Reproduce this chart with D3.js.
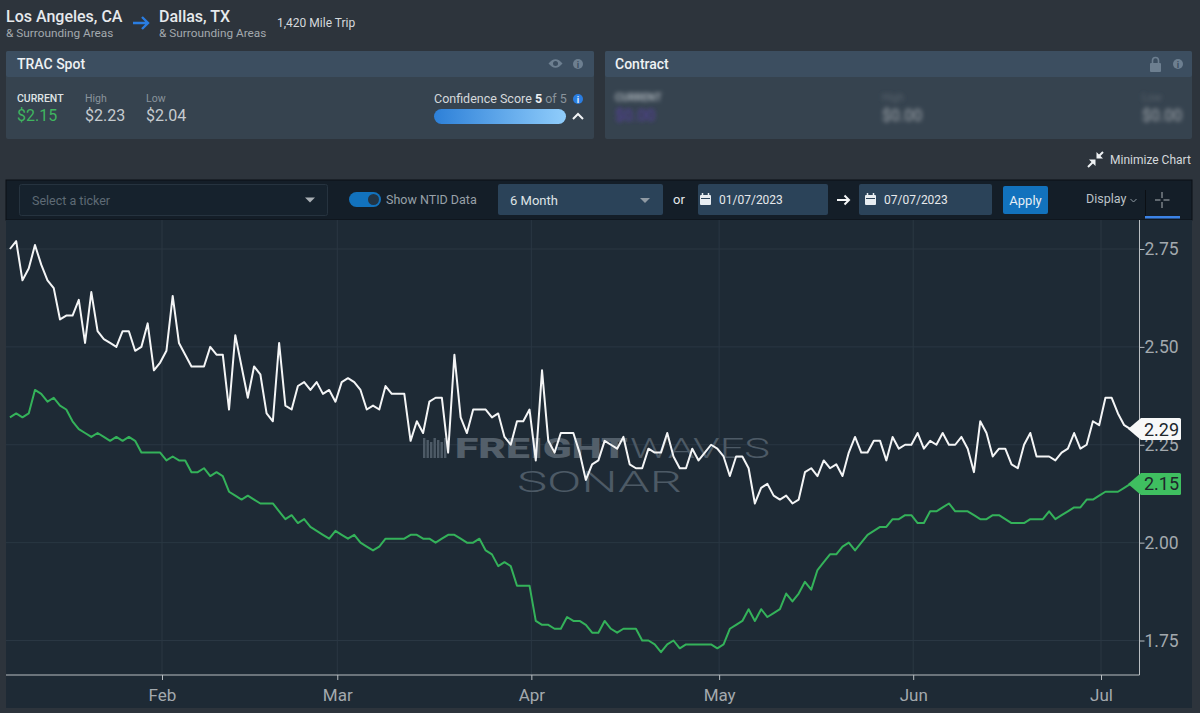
<!DOCTYPE html>
<html>
<head>
<meta charset="utf-8">
<title>TRAC Spot</title>
<script src="https://cdnjs.cloudflare.com/ajax/libs/d3/7.8.5/d3.min.js"></script>
<style>
  html, body { margin: 0; padding: 0; background: #2d343c; overflow: hidden; }
  svg { display: block; font-family: Roboto, sans-serif; }
</style>
</head>
<body>
<svg id="page" width="1200" height="713"></svg>
<script>
// TRAC spot rate, one value per day from the first point on
const firstDay = "2023-01-07T17:00:00Z";
const spotWhite = [
  2.75, 2.77, 2.67, 2.70, 2.76, 2.71, 2.67, 2.65, 2.57, 2.58, 2.58, 2.62, 2.51, 2.64, 2.54,
  2.52, 2.51, 2.50, 2.54, 2.54, 2.49, 2.50, 2.56, 2.44, 2.46, 2.49, 2.63, 2.51, 2.48, 2.45,
  2.45, 2.45, 2.50, 2.48, 2.48, 2.34, 2.53, 2.45, 2.37, 2.45, 2.43, 2.33, 2.31, 2.51, 2.35,
  2.34, 2.40, 2.41, 2.39, 2.41, 2.38, 2.39, 2.36, 2.41, 2.42, 2.41, 2.39, 2.34, 2.35, 2.34,
  2.40, 2.38, 2.38, 2.38, 2.26, 2.31, 2.28, 2.36, 2.37, 2.37, 2.23, 2.48, 2.32, 2.28, 2.34,
  2.34, 2.34, 2.32, 2.33, 2.27, 2.25, 2.31, 2.31, 2.34, 2.21, 2.44, 2.26, 2.23, 2.28, 2.28,
  2.28, 2.23, 2.16, 2.20, 2.21, 2.26, 2.25, 2.24, 2.27, 2.20, 2.19, 2.19, 2.24, 2.23, 2.23,
  2.28, 2.22, 2.19, 2.19, 2.24, 2.21, 2.23, 2.25, 2.24, 2.22, 2.17, 2.22, 2.22, 2.19, 2.10,
  2.14, 2.15, 2.12, 2.11, 2.12, 2.10, 2.11, 2.18, 2.19, 2.17, 2.21, 2.19, 2.20, 2.17, 2.23,
  2.27, 2.23, 2.23, 2.26, 2.26, 2.21, 2.27, 2.24, 2.25, 2.25, 2.28, 2.24, 2.26, 2.25, 2.28,
  2.25, 2.25, 2.27, 2.24, 2.18, 2.31, 2.28, 2.22, 2.24, 2.24, 2.20, 2.19, 2.25, 2.28, 2.22,
  2.22, 2.22, 2.21, 2.23, 2.24, 2.28, 2.24, 2.25, 2.31, 2.30, 2.37, 2.37, 2.33, 2.30, 2.29
];
const spotGreen = [
  2.32, 2.33, 2.32, 2.33, 2.39, 2.38, 2.36, 2.37, 2.35, 2.34, 2.31, 2.29, 2.28, 2.27, 2.28,
  2.27, 2.26, 2.27, 2.26, 2.27, 2.26, 2.23, 2.23, 2.23, 2.23, 2.21, 2.22, 2.21, 2.21, 2.18,
  2.18, 2.19, 2.17, 2.18, 2.17, 2.13, 2.12, 2.11, 2.12, 2.11, 2.10, 2.10, 2.10, 2.08, 2.06,
  2.07, 2.05, 2.06, 2.04, 2.03, 2.02, 2.01, 2.03, 2.02, 2.01, 2.02, 2.00, 1.99, 1.98, 1.99,
  2.01, 2.01, 2.01, 2.01, 2.02, 2.02, 2.01, 2.01, 2.00, 2.01, 2.02, 2.02, 2.01, 2.00, 2.00,
  2.01, 1.98, 1.97, 1.94, 1.95, 1.94, 1.89, 1.89, 1.89, 1.80, 1.79, 1.79, 1.78, 1.78, 1.81,
  1.80, 1.80, 1.79, 1.77, 1.77, 1.80, 1.78, 1.77, 1.78, 1.78, 1.78, 1.75, 1.75, 1.74, 1.72,
  1.74, 1.75, 1.73, 1.74, 1.74, 1.74, 1.74, 1.74, 1.73, 1.74, 1.78, 1.79, 1.80, 1.83, 1.80,
  1.83, 1.81, 1.82, 1.83, 1.87, 1.85, 1.87, 1.90, 1.88, 1.93, 1.95, 1.97, 1.97, 1.99, 2.00,
  1.98, 2.00, 2.02, 2.03, 2.04, 2.04, 2.06, 2.06, 2.07, 2.07, 2.05, 2.05, 2.08, 2.08, 2.09,
  2.10, 2.08, 2.08, 2.08, 2.07, 2.06, 2.06, 2.07, 2.07, 2.06, 2.05, 2.05, 2.05, 2.06, 2.06,
  2.06, 2.08, 2.06, 2.07, 2.08, 2.09, 2.09, 2.11, 2.11, 2.12, 2.13, 2.13, 2.13, 2.14, 2.15
];
const yTicks = [1.75, 2.00, 2.25, 2.50, 2.75];
const monthTicks = ["2023-02-01", "2023-03-01", "2023-04-01", "2023-05-01", "2023-06-01", "2023-07-01"];

const svg = d3.select("#page");

// page colours
const cardBody = "#36434f", cardHead = "#3c4e60", plotBg = "#1e2a35", barBg = "#141e28";
const blue = "#1272bd", green = "#34b25a", soft = "#a3a9ae";

function label(g, x, y, str, size, fill, weight, anchor) {
    return g.append("text").attr("x", x).attr("y", y).text(str)
        .attr("font-size", size).attr("fill", fill)
        .attr("font-weight", weight || 400).attr("text-anchor", anchor || "start");
}
function box(g, x, y, w, h, fill, r) {
    return g.append("rect").attr("x", x).attr("y", y).attr("width", w).attr("height", h)
        .attr("fill", fill).attr("rx", r || 0);
}
function infoDot(g, x, y, fill, mark) {
    g.append("circle").attr("cx", x).attr("cy", y).attr("r", 5).attr("fill", fill);
    label(g, x, y + 3.5, "i", 9, mark, 700, "middle");
}
function calendar(g, x, y) {
    box(g, x, y + 2, 11, 10, "#e8edf1", 1);
    box(g, x + 1, y + 5, 9, 1, "#2b4359");
    g.append("path").attr("d", `M${x + 2.5} ${y}v3M${x + 8.5} ${y}v3`).attr("stroke", "#e8edf1").attr("stroke-width", 1.5);
}
function arrowRight(g, x, y, len, head, stroke, width) {
    g.append("path").attr("fill", "none").attr("stroke", stroke).attr("stroke-width", width)
        .attr("d", `M${x} ${y}H${x + len}M${x + len - head} ${y - head}L${x + len} ${y}L${x + len - head} ${y + head}`);
}

const defs = svg.append("defs");
defs.append("filter").attr("id", "blur").append("feGaussianBlur").attr("stdDeviation", 2);
const grad = defs.append("linearGradient").attr("id", "score");
grad.append("stop").attr("offset", "0%").attr("stop-color", "#2d80d8");
grad.append("stop").attr("offset", "100%").attr("stop-color", "#90cdfb");

// lane heading
const head = svg.append("g");
label(head, 6, 22, "Los Angeles, CA", 16, "#e6e9ec", 500);
label(head, 6, 37, "& Surrounding Areas", 11.8, soft);
arrowRight(head, 133, 23, 15, 6, "#2a7de1", 2.4);
label(head, 159, 22, "Dallas, TX", 16, "#e6e9ec", 500);
label(head, 159, 37, "& Surrounding Areas", 11.8, soft);
label(head, 277, 27, "1,420 Mile Trip", 12, "#d5d9dc");

// TRAC Spot card
const spot = svg.append("g");
box(spot, 6, 51, 588, 88, cardBody, 2);
box(spot, 6, 51, 588, 26, cardHead, 2);
label(spot, 17, 69, "TRAC Spot", 14, "#eef1f3", 500);
spot.append("path").attr("d", "M548.5 63.5q7-8.5 14 0q-7 8.5-14 0z").attr("fill", "#6d7f90");
spot.append("circle").attr("cx", 555.5).attr("cy", 63.5).attr("r", 2.5).attr("fill", cardHead);
infoDot(spot, 578, 64, "#6d7f90", cardHead);
label(spot, 17, 102, "CURRENT", 10.5, "#dfe3e6", 500);
label(spot, 17, 121, "$2.15", 16, "#3fb55f");
label(spot, 85, 102, "High", 10.5, "#8a949c");
label(spot, 85, 121, "$2.23", 16, "#c6cbcf");
label(spot, 146, 102, "Low", 10.5, "#8a949c");
label(spot, 146, 121, "$2.04", 16, "#c6cbcf");
const conf = label(spot, 434, 103, "Confidence Score ", 12.5, "#d5d9dc");
conf.append("tspan").text("5").attr("font-weight", 700).attr("fill", "#eef1f3");
conf.append("tspan").text(" of 5").attr("fill", "#8a949c");
infoDot(spot, 578, 99, "#2a7de1", "#e6f0fa");
box(spot, 434, 109, 132, 15, "url(#score)", 7.5);
spot.append("path").attr("d", "M573 119l5-5l5 5").attr("fill", "none").attr("stroke", "#f1f3f5").attr("stroke-width", 2);

// Contract card, values are blurred out
const contract = svg.append("g");
box(contract, 605, 51, 587, 88, cardBody, 2);
box(contract, 605, 51, 587, 26, cardHead, 2);
label(contract, 615, 69, "Contract", 14, "#eef1f3", 500);
box(contract, 1150, 63, 11, 9, "#6d7f90", 1);
contract.append("path").attr("d", "M1152.5 63v-2.5a3 3 0 0 1 6 0v2.5").attr("fill", "none").attr("stroke", "#6d7f90").attr("stroke-width", 1.6);
infoDot(contract, 1178, 64, "#6d7f90", cardHead);
const hidden = contract.append("g").attr("filter", "url(#blur)");
label(hidden, 615, 101, "CURRENT", 10.5, "#b9c0c6", 500);
label(hidden, 615, 121, "$0.00", 16, "#5a3fa8");
label(hidden, 882, 101, "High", 10.5, "#59646e");
label(hidden, 882, 121, "$0.00", 16, "#a5abb0");
label(hidden, 1142, 101, "Low", 10.5, "#59646e");
label(hidden, 1142, 121, "$0.00", 16, "#a5abb0");

// minimize link
const mini = svg.append("g");
mini.append("path").attr("fill", "none").attr("stroke", "#eef1f3").attr("stroke-width", 2)
    .attr("d", "M1088 167l5-5M1103 152l-5 5");
mini.append("path").attr("fill", "#eef1f3").attr("d", "M1089 159.5h6.5v6.5zM1103 158.5h-6.5v-6.5z");
label(mini, 1110, 164, "Minimize Chart", 12, "#d5d9dc");

// toolbar
const bar = svg.append("g");
box(bar, 6, 180, 1186, 40, barBg).attr("stroke", "#0b0f14");
box(bar, 19.5, 184.5, 308, 31, "#16222d", 2).attr("stroke", "#26333f");
label(bar, 32, 205, "Select a ticker", 12.5, "#5e6a75");
bar.append("path").attr("d", "M305 197.5h10l-5 5z").attr("fill", "#aab0b5");
box(bar, 349, 192, 32, 15, blue, 7.5);
bar.append("circle").attr("cx", 373.5).attr("cy", 199.5).attr("r", 5.5).attr("fill", "#223444");
label(bar, 386, 204, "Show NTID Data", 12.5, "#98a1a8");
box(bar, 498, 184, 165, 31, "#2b4359", 2);
label(bar, 510, 205, "6 Month", 13, "#dfe3e6");
bar.append("path").attr("d", "M640 198h10l-5 5z").attr("fill", "#8f9aa3");
label(bar, 673, 204, "or", 13, "#e6e9ec");
box(bar, 698, 184, 130, 31, "#2b4359", 2);
calendar(bar, 700, 193);
label(bar, 719, 204, "01/07/2023", 12, "#e6e9ec");
arrowRight(bar, 837, 200, 12, 4.5, "#f5f6f7", 2);
box(bar, 859, 184, 133, 31, "#2b4359", 2);
calendar(bar, 865, 193);
label(bar, 884, 204, "07/07/2023", 12, "#e6e9ec");
box(bar, 1003, 186, 45, 28, blue, 2);
label(bar, 1025.5, 205, "Apply", 13, "#e6eef5", 400, "middle");
label(bar, 1086, 203, "Display", 12.5, "#bcc2c7");
bar.append("path").attr("d", "M1130.5 199l3 3l3-3").attr("fill", "none").attr("stroke", "#8f9aa3");
bar.append("path").attr("d", "M1145.5 190v26").attr("stroke", "#0b0f14");
bar.append("path").attr("d", "M1155 200h5.5M1163.5 200h6M1162 192v6M1162 202v6").attr("stroke", "#aab0b5").attr("stroke-width", 1);
box(bar, 1145, 216, 35, 2.5, "#3b82e6");

// chart
const plot = { left: 6, right: 1139.5, top: 220, bottom: 675 };
box(svg, plot.left, plot.top, 1186, 488, plotBg);

const x = d3.scaleUtc()
    .domain([new Date("2023-02-01"), new Date("2023-07-01")])
    .range([162, 1101]);
const y = d3.scaleLinear()
    .domain([1.75, 2.75])
    .range([640.5, 249]);

const monthDates = monthTicks.map(d => new Date(d));
const dayOf = i => d3.utcDay.offset(new Date(firstDay), i);

// grid
const grid = svg.append("g").attr("stroke", "#2a3743").attr("stroke-width", 1);
grid.selectAll(".gx").data(monthDates).join("line")
    .attr("x1", d => x(d)).attr("x2", d => x(d))
    .attr("y1", plot.top).attr("y2", plot.bottom);
grid.selectAll(".gy").data(yTicks).join("line")
    .attr("x1", plot.left).attr("x2", plot.right)
    .attr("y1", d => y(d)).attr("y2", d => y(d));

// watermark sits under the lines
const mark = svg.append("g");
const logoBars = d3.range(7);
mark.selectAll("rect").data(logoBars).join("rect")
    .attr("x", d => 423 + d * 3.5).attr("y", d => 438 + (d % 3) * 2)
    .attr("width", 2.4).attr("height", d => 20 - (d % 3) * 2).attr("fill", "#4d5a66");
label(mark, 455, 458, "FREIGHT", 28, "#535f6a", 900).attr("textLength", 173).attr("lengthAdjust", "spacingAndGlyphs");
label(mark, 630, 458, "WAVES", 28, "#4d5a66", 300).attr("textLength", 140).attr("lengthAdjust", "spacingAndGlyphs");
label(mark, 517, 492, "SONAR", 29, "#4d5a66", 300).attr("textLength", 165).attr("lengthAdjust", "spacingAndGlyphs");

// axes
const axisRight = d3.axisRight(y).tickValues(yTicks).tickFormat(d3.format(".2f")).tickSize(5).tickPadding(0);
const yAxis = svg.append("g").attr("transform", `translate(${plot.right},0)`).call(axisRight);
yAxis.select(".domain").attr("d", `M0 ${plot.top}V${plot.bottom}`);

const axisBottom = d3.axisBottom(x).tickValues(monthDates).tickFormat(d3.utcFormat("%b")).tickSize(5).tickPadding(9);
const xAxis = svg.append("g").attr("transform", `translate(0,${plot.bottom})`).call(axisBottom);
xAxis.select(".domain").attr("d", `M${plot.left} 0H${plot.right}`);

[yAxis, xAxis].forEach(a => {
    a.selectAll(".domain, .tick line").attr("stroke", "#b9bec2").attr("stroke-width", 1);
    a.selectAll("text").attr("fill", soft).attr("font-family", "Roboto, sans-serif").attr("font-size", 17);
});
yAxis.selectAll("text").attr("font-size", 17.5);

// series
const line = d3.line()
    .x((d, i) => x(dayOf(i)))
    .y(d => y(d));
svg.append("path").attr("d", line(spotWhite)).attr("fill", "none")
    .attr("stroke", "#f4f5f6").attr("stroke-width", 2).attr("stroke-linejoin", "round");
svg.append("path").attr("d", line(spotGreen)).attr("fill", "none")
    .attr("stroke", green).attr("stroke-width", 2).attr("stroke-linejoin", "round");

// last value tags
function lastTag(values, fill) {
    const v = values[values.length - 1];
    const ty = y(v);
    const g = svg.append("g").attr("transform", `translate(0,${ty})`);
    g.append("path").attr("fill", fill)
        .attr("d", "M1128 0L1141 -11H1179.5q1.5 0 1.5 1.5V9.5q0 1.5 -1.5 1.5H1141z");
    label(g, 1144, 6.5, v.toFixed(2), 18, "#20262c");
}
lastTag(spotWhite, "#f7f8f8");
lastTag(spotGreen, "#3fbf60");
</script>
</body>
</html>
